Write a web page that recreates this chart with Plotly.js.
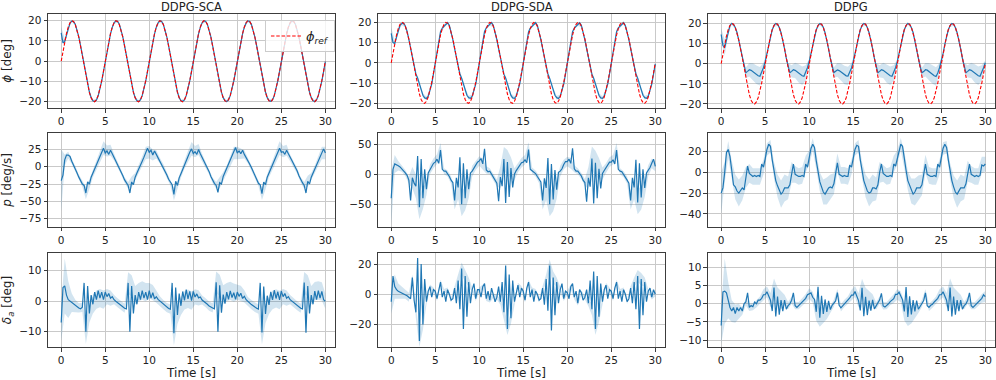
<!DOCTYPE html>
<html>
<head>
<meta charset="utf-8">
<script src="https://cdn.plot.ly/plotly-3.0.1.min.js"></script>
<style>
  html, body { margin: 0; padding: 0; background: #fff; }
  #plot { width: 996px; height: 380px; }
</style>
</head>
<body>
<div id="plot"></div>
<script>
// column titles and row labels
const colTitles = ['DDPG-SCA', 'DDPG-SDA', 'DDPG'];
const rowLabels = ['<i>ϕ</i> [deg]', '<i>p</i> [deg/s]', '<i>δ</i><sub><i>a</i></sub> [deg]'];
const refName = '<i>ϕ</i><sub><i>ref</i></sub>';

// mean curves, one value every 0.2 s from 0 to 30 s (one line = 5 s)
const phiRef = [
  0,5,9.6,13.7,16.9,19,20,19.6,18.1,15.4,11.8,7.4,2.5,-2.5,-7.4,-11.8,-15.4,-18.1,-19.6,-20,-19,-16.9,-13.7,-9.6,-5,
  0,5,9.6,13.7,16.9,19,20,19.6,18.1,15.4,11.8,7.4,2.5,-2.5,-7.4,-11.8,-15.4,-18.1,-19.6,-20,-19,-16.9,-13.7,-9.6,-5,
  0,5,9.6,13.7,16.9,19,20,19.6,18.1,15.4,11.8,7.4,2.5,-2.5,-7.4,-11.8,-15.4,-18.1,-19.6,-20,-19,-16.9,-13.7,-9.6,-5,
  0,5,9.6,13.7,16.9,19,20,19.6,18.1,15.4,11.8,7.4,2.5,-2.5,-7.4,-11.8,-15.4,-18.1,-19.6,-20,-19,-16.9,-13.7,-9.6,-5,
  0,5,9.6,13.7,16.9,19,20,19.6,18.1,15.4,11.8,7.4,2.5,-2.5,-7.4,-11.8,-15.4,-18.1,-19.6,-20,-19,-16.9,-13.7,-9.6,-5,
  0,5,9.6,13.7,16.9,19,20,19.6,18.1,15.4,11.8,7.4,2.5,-2.5,-7.4,-11.8,-15.4,-18.1,-19.6,-20,-19,-16.9,-13.7,-9.6,-5,
  0
];
const phiSCA = [
  14,9,9.8,13.2,16.5,18.8,19.8,19.6,18.2,15.6,12,7.7,2.8,-2.2,-7.1,-11.5,-15.2,-18,-19.5,-19.9,-19.2,-17.1,-13.9,-9.8,-5.2,
  -0.3,4.7,9.4,13.5,16.7,18.9,19.9,19.7,18.3,15.6,12,7.6,2.7,-2.3,-7.2,-11.6,-15.3,-18,-19.5,-19.9,-19.1,-17,-13.8,-9.8,-5.1,
  -0.2,4.8,9.4,13.5,16.8,18.9,19.9,19.7,18.2,15.5,11.9,7.6,2.7,-2.3,-7.2,-11.6,-15.2,-18,-19.5,-19.8,-19.1,-17,-13.8,-9.7,-5.1,
  -0.3,4.7,9.3,13.5,16.7,18.9,19.9,19.7,18.3,15.6,12,7.7,2.8,-2.2,-7.2,-11.6,-15.3,-18,-19.5,-19.9,-19.1,-17,-13.9,-9.8,-5.1,
  -0.2,4.8,9.4,13.6,16.8,18.9,19.9,19.7,18.2,15.5,11.9,7.6,2.7,-2.3,-7.2,-11.6,-15.2,-18,-19.4,-19.8,-19.1,-17,-13.8,-9.7,-5,
  -0.2,4.7,9.4,13.5,16.7,18.9,19.9,19.7,18.3,15.6,12,7.6,2.7,-2.3,-7.2,-11.6,-15.3,-18,-19.5,-19.9,-19.1,-17,-13.8,-9.8,-5.1,
  -0.2
];
const phiSDA = [
  14.5,10,9.6,13,16.5,18.5,19.4,19.6,18.2,15.6,11.6,7,2.5,-2,-5.5,-7.5,-10.5,-13.5,-16,-17.3,-17.6,-16.6,-14,-10.5,-5.5,
  0,6,11,15.4,17.2,18,19,19.8,18.5,15.5,11.5,7,2.5,-2,-5.5,-7.6,-10.5,-13.5,-16,-17.2,-17.5,-16.5,-14,-10.5,-5.6,
  0.2,6.1,11.2,15.5,17.3,18.1,19.1,19.9,18.4,15.4,11.4,7,2.4,-2.1,-5.6,-7.5,-10.6,-13.6,-16.1,-17.3,-17.5,-16.4,-13.9,-10.4,-5.5,
  0.1,6,11,15.3,17.2,18,19,19.8,18.5,15.5,11.5,7.1,2.5,-2,-5.5,-7.7,-10.5,-13.4,-16,-17.2,-17.6,-16.5,-14,-10.5,-5.6,
  0,6.1,11.1,15.4,17.2,18.1,19,19.8,18.5,15.5,11.5,7,2.5,-2,-5.6,-7.6,-10.5,-13.5,-16,-17.3,-17.5,-16.5,-14,-10.4,-5.5,
  0.1,6,11,15.4,17.3,18,19.1,19.8,18.4,15.5,11.5,7,2.4,-2,-5.5,-7.6,-10.6,-13.5,-16,-17.2,-17.5,-16.5,-14,-10.5,-5.6,
  -0.5
];
const phiDDPG = [
  14.5,9,8,12,16,19,20,19.5,18,15.5,11.6,7.4,2.8,-1.5,-4.5,-3.8,-3,-3.3,-4,-4.8,-5.5,-6,-6.2,-4.5,-2,
  1,5,9.6,13.7,16.9,19,20,19.6,18,15.4,11.7,7.4,2.6,-1.5,-4.5,-3.8,-3,-3.3,-4,-4.8,-5.5,-6,-6.2,-4.5,-2,
  1.1,5.1,9.6,13.7,16.8,19,19.9,19.6,18.1,15.4,11.7,7.3,2.6,-1.6,-4.4,-3.7,-3.1,-3.4,-4.1,-4.8,-5.6,-6,-6.1,-4.4,-2.1,
  1,5,9.5,13.7,16.9,19,20,19.6,18,15.4,11.7,7.4,2.6,-1.5,-4.5,-3.8,-3,-3.3,-4,-4.9,-5.5,-6,-6.2,-4.5,-2,
  1,5.1,9.6,13.6,16.9,19,20,19.5,18,15.5,11.7,7.4,2.7,-1.5,-4.5,-3.9,-3,-3.2,-4,-4.8,-5.4,-6,-6.3,-4.6,-2,
  1.1,5,9.6,13.7,16.9,19,20,19.6,18,15.4,11.7,7.4,2.6,-1.5,-4.5,-3.8,-3,-3.3,-4,-4.8,-5.5,-6,-6.2,-4.5,-2,
  0.5
];
const pSCA = [
  -20,-12,10,17,17,15,8,3,-3,-9,-15,-21,-25,-27,-38,-22,-25,-15,-9,-3,3,9,15,21,27,
  20,23,18,24,19,14,9,4,-1,-7,-13,-19,-24,-27,-38,-22,-26,-15,-9,-4,2,8,14,20,27,
  21,24,17,23,18,13,9,5,0,-6,-12,-18,-23,-26,-40,-21,-27,-16,-10,-3,3,9,15,21,26,
  19,22,18,25,19,14,8,3,-1,-7,-14,-20,-24,-27,-37,-23,-25,-14,-8,-4,2,8,14,20,28,
  20,23,19,24,18,14,9,4,-1,-7,-13,-19,-24,-26,-39,-22,-26,-15,-9,-3,3,8,14,21,27,
  21,22,18,24,19,13,9,4,0,-6,-13,-19,-23,-27,-38,-21,-25,-15,-9,-4,2,8,15,20,26,
  20
];
const pSDA = [
  -40,8,17,16,14,12,9,6,2,-2,-10,-44,-6,-15,-20,30,-55,25,-40,8,-25,2,8,12,18,
  20,25,18,40,8,5,5,1,-4,-10,-14,-44,-6,-22,28,-50,18,-40,8,-25,2,5,10,15,20,
  22,26,17,42,7,4,5,0,-5,-11,-15,-45,-5,-20,25,-48,20,-38,10,-22,0,6,11,14,19,
  20,24,19,41,8,6,4,1,-4,-9,-13,-44,-7,-23,27,-50,17,-42,7,-26,3,5,9,16,21,
  21,25,18,43,9,5,5,1,-3,-10,-14,-46,-6,-21,26,-49,19,-40,9,-24,1,6,10,15,20,
  20,24,17,40,8,5,4,0,-4,-10,-15,-44,-6,-22,24,-47,18,-39,8,-23,2,6,11,18,25,
  13
];
const pDDPG = [
  -20,-15,0,19,22,15,2,-12,-14,-18,-20,-17,-15,-17,-5,6,-1,-3,-4,-3,-4,-3,-4,8,5,
  13,22,27,25,12,2,-8,-13,-18,-21,-19,-15,-15,-15,-12,0,8,-2,-3,-4,-4,-3,-4,8,5,
  14,23,27,24,11,1,-9,-14,-19,-21,-18,-15,-14,-15,-11,1,9,-2,-3,-4,-3,-4,-4,7,5,
  13,22,26,25,12,2,-8,-13,-18,-20,-19,-15,-15,-16,-12,0,8,-1,-3,-4,-4,-3,-4,8,6,
  14,22,27,25,12,2,-8,-13,-18,-21,-19,-15,-15,-15,-12,0,8,-2,-3,-4,-4,-3,-4,8,5,
  13,23,27,24,12,1,-8,-14,-19,-21,-18,-15,-15,-15,-11,1,8,-2,-3,-4,-3,-4,-3,7,6,
  8
];
const dSCA = [
  -7,4.5,5,2,0.5,0,-0.5,-1,-1.5,-2,-2.2,-2.5,-2,6,-10,5,-4,2,-1,3,0.5,3.5,1,3,0.5,
  3,1.5,2.5,1,1.5,0.5,0,-0.5,-1,-1.5,-2,-2.3,-2.5,6,-10,5,-4,2,-1,3,0.5,3.5,1,3,0.5,
  3.5,1,2.8,0.8,1.5,0.6,0.1,-0.6,-1.1,-1.5,-2.1,-2.4,-2.6,6,-10.5,4.5,-4.5,2.5,-1.5,3.2,0.3,3.8,0.8,3.2,0.2,
  3.2,1.4,2.4,1.1,1.4,0.4,0,-0.5,-1,-1.6,-2,-2.2,-2.5,6.2,-10,5.2,-3.8,2.2,-0.8,3,0.6,3.4,1.2,2.8,0.6,
  3,1.6,2.6,0.9,1.6,0.5,-0.1,-0.5,-1.1,-1.5,-2,-2.3,-2.6,6,-10.2,4.8,-4.2,1.8,-1.2,3.1,0.4,3.6,0.9,3.1,0.4,
  3.3,1.5,2.5,1,1.5,0.5,0,-0.6,-1,-1.5,-2.1,-2.3,-2.5,6.1,-10.3,5,-4,2,-1,3.3,0.5,3.5,1,3.2,0.5,
  0
];
const dSDA = [
  -5,12,5,3,2,1.5,1,0.5,0,-1,-2,-3,11,-4,-12,24,-31,20,-20,10,-5,2,5,-2,3,
  2,-3,4,8,-2,2,-5,3,0,-4,-3,4,-6,9,-10,17,-23,12,-15,8,-6,3,7,-3,3,
  3,-2,5,7,-3,2,-4,4,-1,-5,-2,5,-5,8,-12,19,-23,13,-16,9,-5,2,6,-2,4,
  2,-4,4,8,-2,3,-5,2,0,-4,-3,4,-7,10,-11,19,-24,11,-14,8,-6,3,7,-3,2,
  1,-3,5,7,-2,2,-6,3,1,-4,-2,3,-6,9,-10,15,-23,12,-15,7,-5,3,6,-3,3,
  2,-3,4,8,-3,2,-5,3,0,-5,-3,4,-6,8,-10,12,-23,10,-14,8,-5,2,4,-2,3,
  0
];
const dDDPG = [
  -6,3.3,3.5,3,1,-1,-2,-1,-2.7,-1,-2,-1,-2,0,0.5,3,-1,-0.5,-0.8,0.5,0,1,1,1.5,2.5,
  2.5,3.3,2,1,-2,4.5,-3.5,2,-3,1,-2,1,-1.5,-0.5,0,1,3,-0.5,-1,-0.5,0,0.5,1,1.5,2.5,
  2.8,3,1.8,1.2,-2.2,4.7,-3.8,2.2,-2.8,1.2,-2.2,0.8,-1.6,-0.4,0.2,0.8,3.1,-0.4,-1.1,-0.6,0.1,0.4,1.1,1.6,2.4,
  2.4,3.4,2.1,0.9,-1.8,4.4,-3.4,1.9,-3.1,0.9,-1.9,1.1,-1.4,-0.6,0,1.1,2.9,-0.6,-0.9,-0.5,0,0.6,0.9,1.4,2.6,
  2.6,3.2,1.9,1.1,-2.1,4.6,-3.6,2.1,-2.9,1,-2.1,0.9,-1.5,-0.5,0.1,0.9,3,-0.5,-1,-0.4,-0.1,0.5,1,1.5,2.5,
  2.5,3.3,2,1,-2,4.5,-3.5,2,-3,1,-2,1,-1.5,-0.5,0,1,3,-0.5,-1,-0.5,0,0.5,1,1.5,2.5,
  2
];

// band half widths, one value every 0.4 s from 0 to 30 s (one line = 10 s)
const sdPhiSCA = [
  3,1.5,0.6,0.5,0.5,0.5,0.6,0.5,0.5,0.6,0.6,0.5,0.5,0.5,0.6,0.5,0.5,0.5,0.6,0.5,0.5,0.6,0.6,0.5,0.5,
  0.5,0.5,0.6,0.5,0.5,0.5,0.6,0.5,0.5,0.6,0.6,0.5,0.5,0.5,0.6,0.5,0.5,0.5,0.6,0.5,0.5,0.6,0.6,0.5,0.5,
  0.5,0.5,0.6,0.5,0.5,0.5,0.6,0.5,0.5,0.6,0.6,0.5,0.5,0.5,0.6,0.5,0.5,0.5,0.6,0.5,0.5,0.6,0.6,0.5,0.5,
  0.5
];
const sdPhiSDA = [
  3,1.5,0.9,0.8,0.8,0.9,0.9,0.8,0.8,1,1,0.9,0.8,0.8,0.9,0.8,0.8,0.8,0.9,0.8,0.8,1,1,0.9,0.8,
  0.8,0.8,0.9,0.8,0.8,0.9,0.9,0.8,0.8,1,1,0.9,0.8,0.8,0.9,0.8,0.8,0.8,0.9,0.8,0.8,1,1,0.9,0.8,
  0.8,0.8,0.9,0.8,0.8,0.9,0.9,0.8,0.8,1,1,0.9,0.8,0.8,0.9,0.8,0.8,0.8,0.9,0.8,0.8,1,1,0.9,0.8,
  0.8
];
const sdPhiDDPG = [
  3,4,1.5,0.7,0.7,0.7,0.8,2.6,3.4,4.2,4.6,4.6,2.4,0.9,0.7,0.7,0.7,0.7,0.8,1.8,3,3.8,4.5,4.6,3.8,
  1.2,0.8,0.7,0.7,0.7,0.7,0.8,2.6,3.4,4.2,4.6,4.6,2.4,0.9,0.7,0.7,0.7,0.7,0.8,1.8,3,3.8,4.5,4.6,3.8,
  1.2,0.8,0.7,0.7,0.7,0.7,0.8,2.6,3.4,4.2,4.6,4.6,2.4,0.9,0.7,0.7,0.7,0.7,0.8,1.8,3,3.8,4.5,4.6,3.8,
  1.2
];
const sdPSCA = [
  45,8,5,4,4,4,4,9,7,6,6,8,10,8,8,5,4,4,4,5,8,6,6,7,9,
  9,8,6,4,4,4,4,9,7,6,6,8,10,8,8,5,4,4,4,5,8,6,6,7,9,
  9,8,6,4,4,4,4,9,7,6,6,8,10,8,8,5,4,4,4,5,8,6,6,7,9,
  9
];
const sdPSDA = [
  45,15,8,5,5,6,18,20,20,18,10,8,8,8,12,5,5,6,15,20,20,20,15,9,8,
  8,9,6,5,5,6,18,20,20,18,10,8,8,8,12,5,5,6,15,20,20,20,15,9,8,
  8,9,6,5,5,6,18,20,20,18,10,8,8,8,12,5,5,6,15,20,20,20,15,9,8,
  8
];
const sdPDDPG = [
  20,10,8,9,12,13,12,10,9,8,8,8,7,6,6,8,11,13,13,11,10,8,8,8,8,
  7,6,8,9,12,13,12,10,9,8,8,8,7,6,6,8,11,13,13,11,10,8,8,8,8,
  7,6,8,9,12,13,12,10,9,8,8,8,7,6,6,8,11,13,13,11,10,8,8,8,8,
  7
];
const sdDSCA = [
  6,9,6,3,2,1.5,1.5,4,3,3,3,3,3,2.5,2.5,1.5,1.5,1.5,1.5,3.5,3.5,3,3,3,3,
  2.5,2.5,2,1.5,1.5,1.5,1.5,4,3,3,3,3,3,2.5,2.5,1.5,1.5,1.5,1.5,3.5,3.5,3,3,3,3,
  2.5,2.5,2,1.5,1.5,1.5,1.5,4,3,3,3,3,3,2.5,2.5,1.5,1.5,1.5,1.5,3.5,3.5,3,3,3,3,
  2.5
];
const sdDSDA = [
  8,8,5,4,3,3,2,4,4,3.5,2,1.5,1.5,1.5,1.5,1.5,1.5,1.5,1.5,3,4,4,3,1.5,1.5,
  1.5,1.5,1.5,1.5,1.5,1.5,2,4,4,3.5,2,1.5,1.5,1.5,1.5,1.5,1.5,1.5,1.5,3,4,4,3,1.5,1.5,
  1.5,1.5,1.5,1.5,1.5,1.5,2,4,4,3.5,2,1.5,1.5,1.5,1.5,1.5,1.5,1.5,1.5,3,4,4,3,1.5,1.5,
  1.5
];
const sdDDDPG = [
  5,9,5,3,2.5,2,1,1,1,1,1,1,1.5,1.5,2,2.5,2.5,2.5,1.5,1,1,1,1,1,1.2,
  1.5,1.5,2.5,2.5,2.5,2,1,1,1,1,1,1,1.5,1.5,2,2.5,2.5,2.5,1.5,1,1,1,1,1,1.2,
  1.5,1.5,2.5,2.5,2.5,2,1,1,1,1,1,1,1.5,1.5,2,2.5,2.5,2.5,1.5,1,1,1,1,1,1.2,
  1.5
];

// axis ranges and tick steps per panel (row by row)
const yRanges = [[-23.1, 23.3], [-22.3, 24.1], [-22, 24.7],
                 [-87.3, 49], [-88, 68.5], [-52.6, 37.8],
                 [-15, 15.8], [-35, 27.3], [-11.9, 14]];
const yTicks = [10, 10, 10, 25, 50, 20, 10, 20, 5];

const panels = [
  {mean: phiSCA, sd: sdPhiSCA, ref: true}, {mean: phiSDA, sd: sdPhiSDA, ref: true}, {mean: phiDDPG, sd: sdPhiDDPG, ref: true},
  {mean: pSCA, sd: sdPSCA}, {mean: pSDA, sd: sdPSDA}, {mean: pDDPG, sd: sdPDDPG},
  {mean: dSCA, sd: sdDSCA}, {mean: dSDA, sd: sdDSDA}, {mean: dDDPG, sd: sdDDDPG}
];

// sampling grids
const t = [];
for (let i = 0; i < phiRef.length; i++) t.push(+(i * 0.2).toFixed(1));
const tb = [];
for (let j = 0; j < sdPhiSCA.length; j++) tb.push(+(j * 0.4).toFixed(1));

const colDom = [[0, 0.3031], [0.3485, 0.6515], [0.6969, 1]];
const rowDom = [[0.7177, 1], [0.3604, 0.6426], [0, 0.2823]];

const font = 'DejaVu Sans, sans-serif';
const blue = '#1f77b4';
const traces = [];
const layout = {
  width: 996, height: 380,
  margin: {l: 48, r: 1, t: 14, b: 33},
  paper_bgcolor: '#fff', plot_bgcolor: '#fff',
  font: {family: font, size: 10.5, color: '#222'},
  showlegend: true,
  legend: {
    x: 0.2291, y: 0.982, xanchor: 'left', yanchor: 'top',
    bgcolor: 'rgba(255,255,255,0.8)', bordercolor: '#cccccc', borderwidth: 1,
    font: {size: 13}, itemwidth: 30, tracegroupgap: 0
  },
  annotations: []
};

panels.forEach((p, i) => {
  const r = Math.floor(i / 3), c = i % 3;
  const xa = 'x' + (i + 1), ya = 'y' + (i + 1);

  // shaded band around the mean
  const up = [], lo = [];
  tb.forEach((x, j) => { up.push(p.mean[2 * j] + p.sd[j]); lo.push(p.mean[2 * j] - p.sd[j]); });
  traces.push({
    x: tb.concat(tb.slice().reverse()), y: up.concat(lo.reverse()),
    xaxis: xa, yaxis: ya, type: 'scatter', mode: 'lines',
    fill: 'toself', fillcolor: 'rgba(31,119,180,0.2)', line: {width: 0},
    hoverinfo: 'skip', showlegend: false
  });
  traces.push({
    x: t, y: p.mean, xaxis: xa, yaxis: ya, type: 'scatter', mode: 'lines',
    line: {color: blue, width: 1.2}, showlegend: false
  });
  if (p.ref) {
    traces.push({
      x: t, y: phiRef, xaxis: xa, yaxis: ya, type: 'scatter', mode: 'lines',
      name: refName, line: {color: '#ff0000', width: 1.1, dash: '3.5px,1.8px'},
      showlegend: i === 0
    });
  }

  const axBase = {
    showline: true, mirror: true, linecolor: '#3c3c3c', linewidth: 1,
    ticks: 'outside', ticklen: 3.5, tickwidth: 1, tickcolor: '#3c3c3c',
    showgrid: true, gridcolor: '#c9c9c9', gridwidth: 1, zeroline: false,
    tickfont: {family: font, size: 10.5, color: '#222'}
  };
  const xName = i === 0 ? 'xaxis' : 'xaxis' + (i + 1);
  const yName = i === 0 ? 'yaxis' : 'yaxis' + (i + 1);
  layout[xName] = Object.assign({}, axBase, {
    domain: colDom[c], anchor: ya, range: [-1.5, 31.1], tick0: 0, dtick: 5
  });
  if (r === 2) layout[xName].title = {text: 'Time [s]', font: {family: font, size: 12}, standoff: 3};
  layout[yName] = Object.assign({}, axBase, {
    domain: rowDom[r], anchor: xa, range: yRanges[i], tick0: 0, dtick: yTicks[i]
  });
  if (c === 0) layout[yName].title = {text: rowLabels[r], font: {family: font, size: 12}, standoff: 5};

  if (r === 0) {
    layout.annotations.push({
      text: colTitles[c], xref: 'paper', yref: 'paper',
      x: (colDom[c][0] + colDom[c][1]) / 2, y: 1, xanchor: 'center', yanchor: 'middle',
      yshift: 7.5, showarrow: false, font: {family: font, size: 11.5, color: '#222'}
    });
  }
});

Plotly.newPlot('plot', traces, layout, {displayModeBar: false, staticPlot: true});
</script>
</body>
</html>
